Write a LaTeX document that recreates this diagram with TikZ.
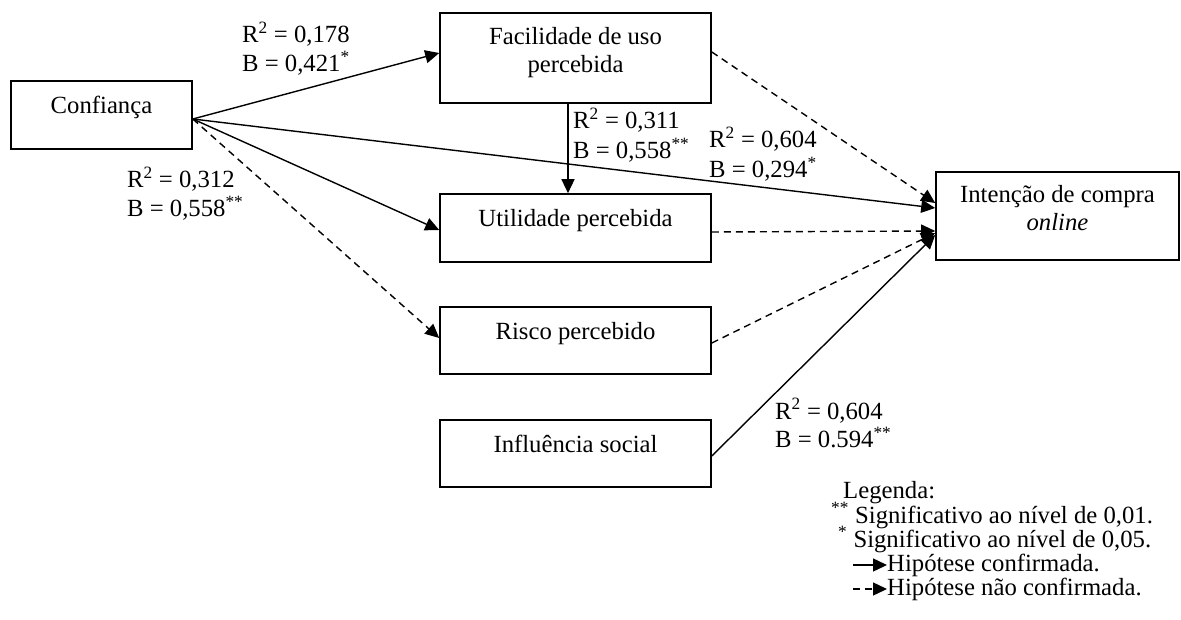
\documentclass[tikz,border=0pt]{standalone}
\usepackage{fontspec}
\setmainfont{Liberation Serif}
\usetikzlibrary{arrows.meta,calc}
\newcommand{\leftstack}[1]{\begin{tabular}[t]{@{}l@{}}#1\end{tabular}}
\newcommand{\centerstack}[1]{\begin{tabular}[t]{@{}c@{}}#1\end{tabular}}
\begin{document}
\begin{tikzpicture}[x=1pt,y=-1pt,
  box/.style={draw, line width=1.6pt, rectangle, inner sep=0pt},
  boxtext/.style={anchor=base, inner sep=0pt, font=\fontsize{24.7}{28}\selectfont},
  lab/.style={anchor=base west, inner sep=0pt, font=\fontsize{24.7}{#1}\selectfont},
  legtext/.style={anchor=base west, inner sep=0pt, font=\fontsize{24.7}{28}\selectfont},
  conn/.style={line width=1.4pt, -{Triangle[length=14pt,width=13pt]}},
  dconn/.style={conn, dash pattern=on 7pt off 5pt}
]
\fill[white] (0,0) rectangle (1181,620);
\useasboundingbox (0,0) rectangle (1181,620);

% construct boxes
\node[box, minimum width=181pt, minimum height=68pt] (conf) at (101.5,115) {};
\node[box, minimum width=271pt, minimum height=90pt] (fac) at (575.5,58) {};
\node[box, minimum width=271pt, minimum height=68pt] (uti) at (575.5,228) {};
\node[box, minimum width=271pt, minimum height=67pt] (ris) at (575.5,340.5) {};
\node[box, minimum width=271pt, minimum height=67pt] (inf) at (575.5,453.5) {};
\node[box, minimum width=243pt, minimum height=88pt] (int) at (1057.5,216) {};

% box captions
\node[boxtext] (conft) at ($(conf.center)+(0,-1)$) {Confiança};
\node[boxtext] (fact) at ($(fac.center)+(0,-13)$) {\centerstack{Facilidade de uso\\percebida}};
\node[boxtext] (utit) at ($(uti.center)+(0,-1)$) {Utilidade percebida};
\node[boxtext] (rist) at ($(ris.center)+(0,-1)$) {Risco percebido};
\node[boxtext] (inft) at ($(inf.center)+(0,-1)$) {Influência social};
\node[boxtext] (intt) at ($(int.center)+(0,-13)$) {\centerstack{Intenção de compra\\\textit{online}}};

% paths
\coordinate (co) at ($(conf.east)+(0,4)$);
\draw[conn] (co) -- ($(fac.west)+(0,-5)$);
\draw[conn] (co) -- ($(int.west)+(0,-8)$);
\draw[conn] (co) -- ($(uti.west)+(0,2)$);
\draw[dconn] (co) -- ($(ris.west)+(0,-2.5)$);
\draw[conn] ([xshift=-7.5pt]fac.south) -- ([xshift=-7.5pt]uti.north);
\draw[dconn] ($(fac.east)+(0,-6)$) -- ($(int.west)+(0,-13)$);
\draw[dconn] ($(uti.east)+(0,4)$) -- ($(int.west)+(0,15)$);
\draw[dconn] ($(ris.east)+(0,2.5)$) -- ($(int.west)+(0,17)$);
\draw[conn] ($(inf.east)+(0,2.5)$) -- ($(int.west)+(0,19)$);

% coefficients
\node[lab=28] (l1) at (242,43) {\leftstack{R\textsuperscript{2} = 0,178\\B = 0,421\textsuperscript{*}}};
\node[lab=26] (l2) at (127,188) {\leftstack{R\textsuperscript{2} = 0,312\\B = 0,558\textsuperscript{**}}};
\node[lab=30] (l3) at (573,129) {\leftstack{R\textsuperscript{2} = 0,311\\B = 0,558\textsuperscript{**}}};
\node[lab=29] (l4) at (709,148) {\leftstack{R\textsuperscript{2} = 0,604\\B = 0,294\textsuperscript{*}}};
\node[lab=27] (l5) at (775,419) {\leftstack{R\textsuperscript{2} = 0,604\\B = 0.594\textsuperscript{**}}};

% legend
\node[legtext] (legt) at (843,498) {Legenda:};
\node[legtext] (leg1) at (831,523) {\textsuperscript{**} Significativo ao nível de 0,01.};
\node[legtext] (leg2) at (838,547) {\textsuperscript{*} Significativo ao nível de 0,05.};
\node[legtext] (leg3) at (887,571) {Hipótese confirmada.};
\node[legtext] (leg4) at (887,595) {Hipótese não confirmada.};
\coordinate (ls3) at (853,565);
\coordinate (ls4) at (853,589);
\draw[conn] (ls3) -- (ls3 -| leg3.west);
\draw[dconn] (ls4) -- (ls4 -| leg4.west);
\end{tikzpicture}
\end{document}
